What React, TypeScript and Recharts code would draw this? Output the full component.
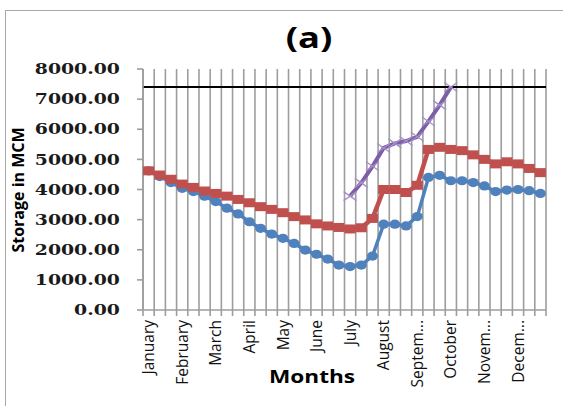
import React from "react";
import { LineChart, Line, XAxis, YAxis, CartesianGrid, ReferenceLine } from "recharts";

// 36 ten-day periods, labelled at the first period of each month
const monthLabels = ["January", "February", "March", "April", "May", "June", "July", "August", "Septem...", "October", "Novem...", "Decem..."];

const redStorage = [4620, 4480, 4340, 4180, 4070, 3950, 3870, 3780, 3670, 3560, 3430, 3340, 3230, 3100, 2990, 2860, 2790, 2740, 2690, 2730, 3040, 4000, 4000, 3900, 4140, 5330, 5400, 5330, 5290, 5150, 5000, 4850, 4920, 4850, 4700, 4560];

const blueStorage = [4620, 4430, 4230, 4040, 3930, 3780, 3600, 3380, 3190, 2930, 2710, 2520, 2380, 2210, 1990, 1850, 1690, 1490, 1440, 1490, 1790, 2850, 2850, 2790, 3100, 4400, 4470, 4290, 4290, 4230, 4120, 3930, 3980, 4000, 3960, 3870];

const purpleStorage: (number | null)[] = [null, null, null, null, null, null, null, null, null, null, null, null, null, null, null, null, null, null, 3780, 4220, 4770, 5380, 5530, 5610, 5750, 6260, 6800, 7400, null, null, null, null, null, null, null, null];

const maxStorage = 7400;
const yTicks = [0, 1000, 2000, 3000, 4000, 5000, 6000, 7000, 8000];

const periodLabels = monthLabels.flatMap((m) => [m, "", ""]);
const data = periodLabels.map((label, i) => ({
  x: i + 0.5,
  period: label,
  red: redStorage[i],
  blue: blueStorage[i],
  purple: purpleStorage[i],
}));
const boundaryTicks = periodLabels.map((_, i) => i).concat([periodLabels.length]);
const labelTicks = periodLabels.map((l, i) => (l ? i + 0.5 : null)).filter((v) => v !== null) as number[];

const RED = "#C0504D";
const BLUE = "#4F81BD";
const PURPLE = "#7d5fa6";
const GRID = "#9d9d9d";

const SquareDot = (props: any) => {
  const { cx, cy, index } = props;
  if (cx == null || cy == null) return <g key={`r${index}`} />;
  return <rect key={`r${index}`} x={cx - 5.5} y={cy - 4.5} width={11} height={9} fill={RED} />;
};
const CircleDot = (props: any) => {
  const { cx, cy, index } = props;
  if (cx == null || cy == null) return <g key={`b${index}`} />;
  return <ellipse key={`b${index}`} cx={cx} cy={cy} rx={5.5} ry={4.6} fill={BLUE} />;
};
const CrossDot = (props: any) => {
  const { cx, cy, index, value } = props;
  if (cx == null || cy == null || value == null) return <g key={`p${index}`} />;
  return (
    <g key={`p${index}`} stroke="#a48fc8" strokeWidth={1.3} fill="none">
      <line x1={cx - 6.5} y1={cy - 4.5} x2={cx + 6.5} y2={cy + 4.5} />
      <line x1={cx - 6.5} y1={cy + 4.5} x2={cx + 6.5} y2={cy - 4.5} />
    </g>
  );
};

const EmptyTick = () => <g />;

const YTick = (props: any) => {
  const { x, y, payload } = props;
  return (
    <text
      x={x}
      y={y}
      dy="0.36em"
      textAnchor="end"
      fill="#1a1a1a"
      fontFamily="DejaVu Serif"
      fontWeight="bold"
      fontSize={14.5}
      transform={`translate(${x},${y}) scale(1.3,1) translate(${-x},${-y})`}
    >
      {Number(payload.value).toFixed(2)}
    </text>
  );
};

const MonthTick = (props: any) => {
  const { x, y, payload } = props;
  const label = periodLabels[Math.floor(payload.value)];
  return (
    <text
      x={x}
      y={y}
      dy="0.36em"
      textAnchor="end"
      fill="#111"
      fontFamily="Open Sans"
      fontSize={15.5}
      transform={`rotate(-90, ${x}, ${y})`}
    >
      {label}
    </text>
  );
};

export default function App() {
  return (
    <div style={{ position: "absolute", left: 0, top: 0, width: 563, height: 406, overflow: "hidden", background: "#fff" }}>
      <div style={{ position: "absolute", left: 5, top: 10, width: 640, height: 440, border: "1px solid #a9a9a9" }} />
      <div
        style={{
          position: "absolute",
          left: 309,
          top: 37,
          transform: "translate(-50%, -50%) scaleX(1.3)",
          fontFamily: "Open Sans",
          fontWeight: "bold",
          fontSize: 28,
          lineHeight: "30px",
          color: "#000",
          whiteSpace: "nowrap",
        }}
      >
        (a)
      </div>
      <div
        style={{
          position: "absolute",
          left: 18,
          top: 190,
          transform: "translate(-50%, -50%) rotate(-90deg)",
          fontFamily: "Open Sans",
          fontWeight: "bold",
          fontSize: 16,
          lineHeight: "17px",
          color: "#000",
          whiteSpace: "nowrap",
        }}
      >
        Storage in MCM
      </div>
      <div
        style={{
          position: "absolute",
          left: 312,
          top: 377,
          transform: "translate(-50%, -50%) scaleX(1.33)",
          fontFamily: "Open Sans",
          fontWeight: "bold",
          fontSize: 17,
          lineHeight: "18px",
          color: "#000",
          whiteSpace: "nowrap",
        }}
      >
        Months
      </div>
      <div style={{ position: "absolute", left: 0, top: 0 }}>
        <LineChart width={563} height={406} data={data} margin={{ top: 69, right: 17, left: 0, bottom: 10 }}>
          <CartesianGrid xAxisId="grid" vertical={true} horizontal={false} stroke={GRID} strokeWidth={1.6} />
          <XAxis
            xAxisId="grid"
            dataKey="x"
            type="number"
            domain={[0, 36]}
            ticks={boundaryTicks}
            interval={0}
            tick={EmptyTick}
            height={6}
            tickSize={6}
            tickMargin={0}
            axisLine={{ stroke: GRID, strokeWidth: 1.6 }}
            tickLine={{ stroke: GRID, strokeWidth: 1.6 }}
          />
          <XAxis
            xAxisId="labels"
            dataKey="x"
            type="number"
            domain={[0, 36]}
            ticks={labelTicks}
            interval={0}
            height={80}
            tickSize={0}
            tickMargin={4}
            axisLine={false}
            tickLine={false}
            tick={<MonthTick />}
          />
          <YAxis
            domain={[0, 8000]}
            ticks={yTicks}
            interval={0}
            width={143}
            tickSize={6}
            tickMargin={17}
            axisLine={{ stroke: GRID, strokeWidth: 1.6 }}
            tickLine={{ stroke: GRID, strokeWidth: 1.6 }}
            tick={<YTick />}
          />
          <ReferenceLine xAxisId="grid" y={maxStorage} stroke="#000" strokeWidth={2} />
          <Line xAxisId="grid" type="linear" dataKey="blue" stroke={BLUE} strokeWidth={3.5} dot={<CircleDot />} isAnimationActive={false} />
          <Line xAxisId="grid" type="linear" dataKey="red" stroke={RED} strokeWidth={4.5} dot={<SquareDot />} isAnimationActive={false} />
          <Line xAxisId="grid" type="linear" dataKey="purple" stroke={PURPLE} strokeWidth={4} dot={<CrossDot />} connectNulls={false} isAnimationActive={false} />
        </LineChart>
      </div>
    </div>
  );
}
